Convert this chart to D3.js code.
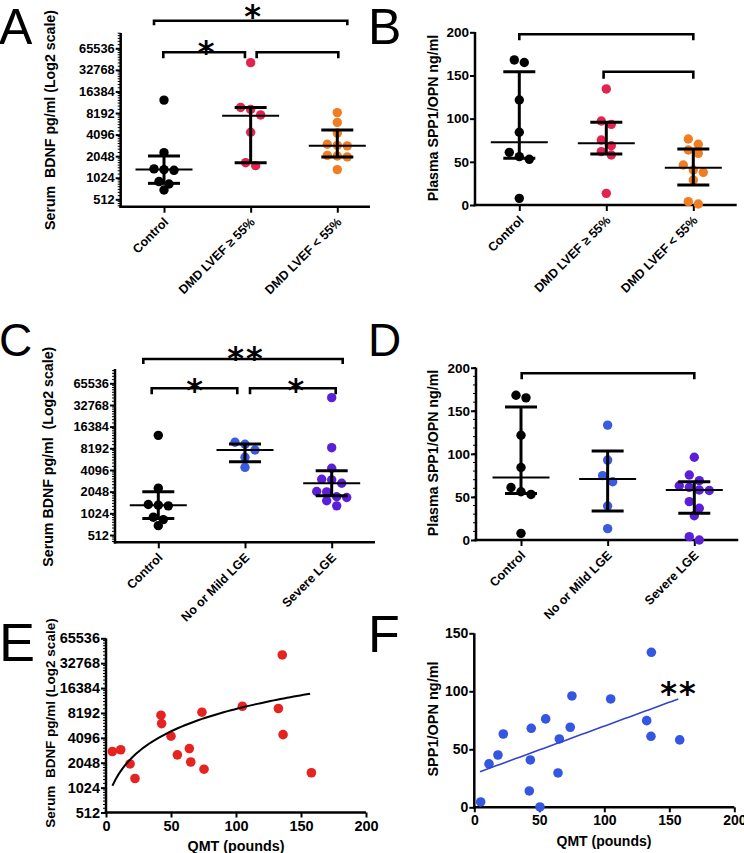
<!DOCTYPE html>
<html><head><meta charset="utf-8">
<script src="https://cdn.jsdelivr.net/npm/d3@7"></script>
<style>body{margin:0;background:#fff} svg{display:block}</style>
</head><body><svg id="c" width="744" height="853"></svg>
<script>
// ---------------- DATA ----------------
const catsLVEF = ["Control", "DMD LVEF \u2265 55%", "DMD LVEF < 55%"];
const catsLGE = ["Control", "No or Mild LGE", "Severe LGE"];
const log2Ticks = [512, 1024, 2048, 4096, 8192, 16384, 32768, 65536];
const opnTicks = [0, 50, 100, 150, 200];
const opnTicksF = [0, 50, 100, 150];
const qmtTicks = [0, 50, 100, 150, 200];

// Panel A: serum BDNF (pg/ml)
const bdnfControl = [12400, 2290, 1360, 1330, 1300, 905, 838, 690];
const bdnfLvefHigh = [41300, 9800, 9200, 7700, 4420, 1660, 1510];
const bdnfLvefLow = [8300, 6070, 4300, 3000, 2900, 2850, 2100, 2060, 2000, 1330];
const bdnfA_median = [1330, 7530, 2870];
const bdnfA_q1 = [855, 1660, 2000];
const bdnfA_q3 = [2060, 9800, 4740];

// Panel B: plasma SPP1/OPN (ng/ml)
const opnControl = [165, 168, 121.6, 84.2, 61, 56, 52.9, 7.7];
const opnLvefHigh = [134.4, 97.3, 93.4, 75.3, 68.7, 61.8, 57.9, 13.5];
const opnLvefLow = [76.4, 70.3, 63.7, 59.8, 46.3, 40.5, 37.8, 29, 3.9, 1.2];
const opnB_median = [72.6, 71.4, 43.2];
const opnB_q1 = [54, 59, 23.2];
const opnB_q3 = [154.4, 95.8, 64.9];

// Panel C: serum BDNF by LGE
const bdnfMildLGE = [9930, 9330, 7750, 6160, 4460];
const bdnfSevereLGE = [41400, 8360, 4330, 3040, 2980, 2680, 2060, 2030, 1740, 1700, 1530, 1300];
const bdnfC_median = [1330, 7750, 2680];
const bdnfC_q1 = [870, 5330, 1800];
const bdnfC_q3 = [2050, 9400, 4000];

// Panel D: plasma SPP1/OPN by LGE
const opnMildLGE = [133.4, 92.8, 74.7, 67.7, 39.5, 13.2];
const opnSevereLGE = [96, 75.4, 68.9, 63, 61.1, 58, 57.5, 44.5, 36.8, 28.2, 3.9, 0];
const opnD_median = [72.6, 70.8, 58];
const opnD_q1 = [54, 33.7, 31];
const opnD_q3 = [154.4, 103.3, 67.7];

// Panel E: QMT vs BDNF
const qmtE = [4.9, 11.3, 18.5, 22.3, 42.3, 42.8, 50, 54.9, 64.1, 65.2, 73.8, 75.4, 104.9, 132.6, 135.6, 136.2, 158];
const bdnfE = [2800, 2940, 1980, 1320, 7700, 6090, 4290, 2550, 3040, 2090, 8360, 1710, 9870, 9270, 41200, 4480, 1550];
const fitE = {intercept: 664, slope: 84.9, xmin: 4.9, xmax: 157};

// Panel F: QMT vs SPP1/OPN
const qmtF = [4.9, 11.3, 18.2, 22.3, 42.3, 43.1, 43.8, 50.5, 54.9, 64.4, 65.4, 73.8, 75.1, 104.9, 132.6, 135.9, 136.2, 158];
const opnF = [4.6, 37.4, 45.1, 63.2, 14.1, 40.8, 68.1, 0.3, 76.2, 29.6, 58.9, 69.0, 96.0, 93.4, 74.7, 61.2, 133.6, 58.1];
const fitF = {intercept: 28.9, slope: 0.411, xmin: 4.4, xmax: 156.9};

// significance brackets (group index pairs + label)
const sigA = [{a: 0, b: 2, label: "*"}, {a: 0, b: 1, label: "*"}, {a: 1, b: 2, label: ""}];
const sigB = [{a: 0, b: 2, label: ""}, {a: 1, b: 2, label: ""}];
const sigC = [{a: 0, b: 2, label: "**"}, {a: 0, b: 1, label: "*"}, {a: 1, b: 2, label: "*"}];
const sigD = [{a: 0, b: 2, label: ""}];
const sigF = "**";

// ---------------- DRAWING ----------------
const FONT = '"Liberation Sans", Arial, Helvetica, sans-serif';
const STARFONT = '"DejaVu Sans", "Liberation Sans", sans-serif';
const svg = d3.select("#c");
const colBlack = "#000000", colCrimson = "#e3234f", colOrange = "#f07d22",
      colBlue = "#3a5be0", colPurple = "#5b1fd9", colRed = "#e52421", colBlueF = "#3556e0";

function log2Minor() {
  const out = [];
  for (let k = 8; k <= 16; k++) for (let i = 1; i < 8; i++) out.push(Math.pow(2, k) * (1 + i / 8));
  return out;
}

function swarm(vals, y, thr = 8, step = 10) {
  const pts = vals.map(v => ({v, y: y(v)})).sort((a, b) => a.y - b.y);
  const rows = []; let cur = null;
  pts.forEach(p => {
    if (!cur || p.y - cur[0].y > thr) { cur = [p]; rows.push(cur); } else cur.push(p);
  });
  rows.forEach(r => r.forEach((p, i) => p.dx = (i - (r.length - 1) / 2) * step));
  return pts;
}

function hline(g, x1, x2, y, w) {
  g.append("line").attr("x1", x1).attr("x2", x2).attr("y1", y).attr("y2", y)
    .attr("stroke", "#000").attr("stroke-width", w);
}
function vline(g, x, y1, y2, w) {
  g.append("line").attr("x1", x).attr("x2", x).attr("y1", y1).attr("y2", y2)
    .attr("stroke", "#000").attr("stroke-width", w);
}

function drawYAxis(g, p) {
  vline(g, p.ax, p.yTop, p.ay + 1.25, 2.5);
  if (p.minor) {
    g.append("g").selectAll("line")
      .data(p.minor.filter(v => p.y(v) >= p.yTop && p.y(v) <= p.ay))
      .join("line").attr("x1", p.ax - 3).attr("x2", p.ax)
      .attr("y1", d => p.y(d)).attr("y2", d => p.y(d))
      .attr("stroke", "#000").attr("stroke-width", 1);
  }
  const ya = g.append("g").attr("transform", `translate(${p.ax},0)`)
    .call(d3.axisLeft(p.y).tickValues(p.ticks).tickSize(5).tickPadding(p.tickPad || 1).tickFormat(d => String(d)));
  ya.select(".domain").remove();
  ya.selectAll("line").attr("stroke-width", 2);
  ya.selectAll("text").attr("font-size", p.tickFs).attr("font-weight", "bold")
    .attr("font-family", FONT).attr("fill", "#000");
}

function yLabel(g, text, x, y, fs) {
  g.append("text").attr("transform", `translate(${x},${y}) rotate(-90)`)
    .attr("text-anchor", "middle").attr("dy", "0.35em")
    .attr("font-family", FONT).attr("font-weight", "bold").attr("font-size", fs)
    .style("white-space", "pre").text(text);
}

function panelLetter(t, x, y, fs) {
  svg.append("text").attr("x", x).attr("y", y).attr("font-family", FONT)
    .attr("font-size", fs).attr("font-weight", 300).text(t);
}

function star(g, text, cx, cy) {
  const fs = 32;
  g.append("text").attr("x", cx).attr("y", cy + 0.6 * fs).attr("text-anchor", "middle")
    .attr("font-family", STARFONT).attr("font-weight", "bold").attr("font-size", fs)
    .attr("letter-spacing", text.length > 1 ? 2 : 0).text(text);
}

function columnPanel(p) {
  const g = svg.append("g");
  const x = d3.scalePoint().domain(p.cats).range(p.xRange);
  drawYAxis(g, p);
  hline(g, p.ax - 1.25, p.xEnd, p.ay, 2.5);
  const xa = g.append("g").attr("transform", `translate(0,${p.ay})`)
    .call(d3.axisBottom(x).tickSize(6).tickFormat(""));
  xa.select(".domain").remove();
  xa.selectAll("line").attr("stroke-width", 2);
  g.append("g").selectAll("text").data(p.cats).join("text")
    .attr("transform", d => `translate(${x(d) + 2},${p.ay + 13}) rotate(-45)`)
    .attr("text-anchor", "end").attr("dy", "0.35em")
    .attr("font-family", FONT).attr("font-weight", "bold").attr("font-size", 12.5)
    .text(d => d);
  // dots
  p.series.forEach((vals, i) => {
    const pts = swarm(vals, p.y);
    g.append("g").selectAll("circle").data(pts).join("circle")
      .attr("cx", d => x(p.cats[i]) + d.dx).attr("cy", d => d.y)
      .attr("r", 4.7).attr("fill", p.colors[i]);
  });
  // median + IQR
  p.cats.forEach((c, i) => {
    const cx = x(c);
    hline(g, cx - 28.5, cx + 28.5, p.y(p.med[i]), 2);
    hline(g, cx - 16, cx + 16, p.y(p.q3[i]), 3);
    hline(g, cx - 16, cx + 16, p.y(p.q1[i]), 3);
    vline(g, cx, p.y(p.q3[i]), p.y(p.q1[i]), 3);
  });
  // brackets
  p.sig.forEach((s, j) => {
    const L = p.bracketLayout[j];
    const x1 = x(p.cats[s.a]) + L.da, x2 = x(p.cats[s.b]) + L.db;
    g.append("path").attr("d", `M${x1},${L.y + L.drop}V${L.y}H${x2}V${L.y + L.drop}`)
      .attr("fill", "none").attr("stroke", "#000").attr("stroke-width", 2.6);
    if (s.label) star(g, s.label, (x1 + x2) / 2 + (L.sdx || 0), L.sy);
  });
  yLabel(g, p.ylabel, p.ylx, p.yly, p.ylFs);
}

function xyPanel(p) {
  const g = svg.append("g");
  drawYAxis(g, p);
  hline(g, p.ax - 1.25, p.xEnd, p.ay, 2.5);
  const xa = g.append("g").attr("transform", `translate(0,${p.ay})`)
    .call(d3.axisBottom(p.x).tickValues(p.xticks).tickSize(5).tickPadding(3).tickFormat(d => String(d)));
  xa.select(".domain").remove();
  xa.selectAll("line").attr("stroke-width", 2);
  xa.selectAll("text").attr("font-size", p.tickFs).attr("font-weight", "bold")
    .attr("font-family", FONT).attr("fill", "#000");
  g.append("g").selectAll("circle").data(p.xs.map((v, i) => [v, p.ys[i]])).join("circle")
    .attr("cx", d => p.x(d[0])).attr("cy", d => p.y(d[1])).attr("r", 4.8).attr("fill", p.color);
  const fx = d3.range(0, 61).map(i => p.fit.xmin + (p.fit.xmax - p.fit.xmin) * i / 60);
  g.append("path").datum(fx)
    .attr("d", d3.line().x(d => p.x(d)).y(d => p.y(p.fit.intercept + p.fit.slope * d)))
    .attr("fill", "none").attr("stroke", p.lineColor).attr("stroke-width", p.lineW);
  g.append("text").attr("x", p.xlx).attr("y", p.xly).attr("text-anchor", "middle")
    .attr("font-family", FONT).attr("font-weight", "bold").attr("font-size", p.xlFs).text("QMT (pounds)");
  yLabel(g, p.ylabel, p.ylx, p.yly, p.ylFs);
  if (p.star) star(g, p.star, p.starX, p.starY);
}

// Panel A
columnPanel({
  cats: catsLVEF, series: [bdnfControl, bdnfLvefHigh, bdnfLvefLow],
  colors: [colBlack, colCrimson, colOrange],
  med: bdnfA_median, q1: bdnfA_q1, q3: bdnfA_q3,
  ax: 120.7, ay: 206.7, yTop: 33, xEnd: 370, xRange: [164, 337.3],
  y: d3.scaleLog().base(2).domain([512, 65536]).range([199.3, 48.3]),
  ticks: log2Ticks, minor: log2Minor(), tickFs: 12.8,
  sig: sigA,
  bracketLayout: [{y: 20.7, da: -10, db: 10, drop: 4.5, sy: 8, sdx: 2},
                  {y: 52.3, da: -0.7, db: -5.7, drop: 6, sy: 43.5, sdx: 2},
                  {y: 52.3, da: 6, db: 1, drop: 6}],
  ylabel: "Serum  BDNF pg/ml (Log2 scale)", ylx: 50, yly: 120, ylFs: 14.2
});
// Panel B
columnPanel({
  cats: catsLVEF, series: [opnControl, opnLvefHigh, opnLvefLow],
  colors: [colBlack, colCrimson, colOrange],
  med: opnB_median, q1: opnB_q1, q3: opnB_q3,
  ax: 475, ay: 205, yTop: 32, xEnd: 736.7, xRange: [519.3, 693.3],
  y: d3.scaleLinear().domain([0, 200]).range([205, 32.3]),
  ticks: opnTicks, minor: null, tickFs: 13.5,
  sig: sigB,
  bracketLayout: [{y: 34.3, da: 0, db: 0, drop: 6}, {y: 71.7, da: -2.7, db: 0, drop: 7}],
  ylabel: "Plasma SPP1/OPN ng/ml", ylx: 433.3, yly: 118, ylFs: 14.2
});
// Panel C
columnPanel({
  cats: catsLGE, series: [bdnfControl, bdnfMildLGE, bdnfSevereLGE],
  colors: [colBlack, colBlue, colPurple],
  med: bdnfC_median, q1: bdnfC_q1, q3: bdnfC_q3,
  ax: 115, ay: 542.3, yTop: 369, xEnd: 375, xRange: [158.3, 331.7],
  y: d3.scaleLog().base(2).domain([512, 65536]).range([535, 383.3]),
  ticks: log2Ticks, minor: log2Minor(), tickFs: 12.8,
  sig: sigC,
  bracketLayout: [{y: 359, da: -15, db: 11, drop: 5, sy: 350, sdx: 3},
                  {y: 388.3, da: -6.6, db: -7.7, drop: 6, sy: 382, sdx: 0},
                  {y: 388.3, da: 5, db: 4, drop: 6, sy: 382, sdx: 3}],
  ylabel: "Serum BDNF pg/ml  (Log2 scale)", ylx: 48.3, yly: 456.7, ylFs: 14.2
});
// Panel D
columnPanel({
  cats: catsLGE, series: [opnControl, opnMildLGE, opnSevereLGE],
  colors: [colBlack, colBlue, colPurple],
  med: opnD_median, q1: opnD_q1, q3: opnD_q3,
  ax: 476, ay: 540, yTop: 367.7, xEnd: 738.3, xRange: [521, 694.3],
  y: d3.scaleLinear().domain([0, 200]).range([540, 367.7]),
  ticks: opnTicks, minor: d3.range(0, 201, 10), tickFs: 13.5,
  sig: sigD,
  bracketLayout: [{y: 373.3, da: 0.7, db: 0, drop: 6}],
  ylabel: "Plasma SPP1/OPN ng/ml", ylx: 433.3, yly: 453, ylFs: 14.2
});
// Panel E
xyPanel({
  ax: 106, ay: 812.5, yTop: 638.3, xEnd: 366,
  x: d3.scaleLinear().domain([0, 200]).range([106, 366]),
  y: d3.scaleLog().base(2).domain([512, 65536]).range([812.5, 638.3]),
  ticks: log2Ticks, minor: log2Minor(), tickFs: 14.5, xticks: qmtTicks,
  xs: qmtE, ys: bdnfE, color: colRed, fit: fitE, lineColor: "#000", lineW: 2,
  xlx: 236, xly: 851, xlFs: 14.3,
  ylabel: "Serum  BDNF pg/ml (Log2 scale)", ylx: 50, yly: 723, ylFs: 13.5
});
// Panel F
xyPanel({
  ax: 474.3, ay: 807.3, yTop: 633.3, xEnd: 734.3,
  x: d3.scaleLinear().domain([0, 200]).range([474.3, 734.3]),
  y: d3.scaleLinear().domain([0, 150]).range([807.3, 633.3]),
  ticks: opnTicksF, minor: null, tickFs: 14, xticks: qmtTicks,
  xs: qmtF, ys: opnF, color: colBlueF, fit: fitF, lineColor: "#3344cc", lineW: 1.6,
  xlx: 604, xly: 846, xlFs: 14,
  ylabel: "SPP1/OPN ng/ml", ylx: 433.3, yly: 719, ylFs: 14.5,
  star: sigF, starX: 679, starY: 685
});

panelLetter("A", -1, 44, 50);
panelLetter("B", 368, 44, 50);
panelLetter("C", -1, 356, 46);
panelLetter("D", 368, 356, 46);
panelLetter("E", -1, 661, 54);
panelLetter("F", 368, 652, 52);
</script></body></html>
